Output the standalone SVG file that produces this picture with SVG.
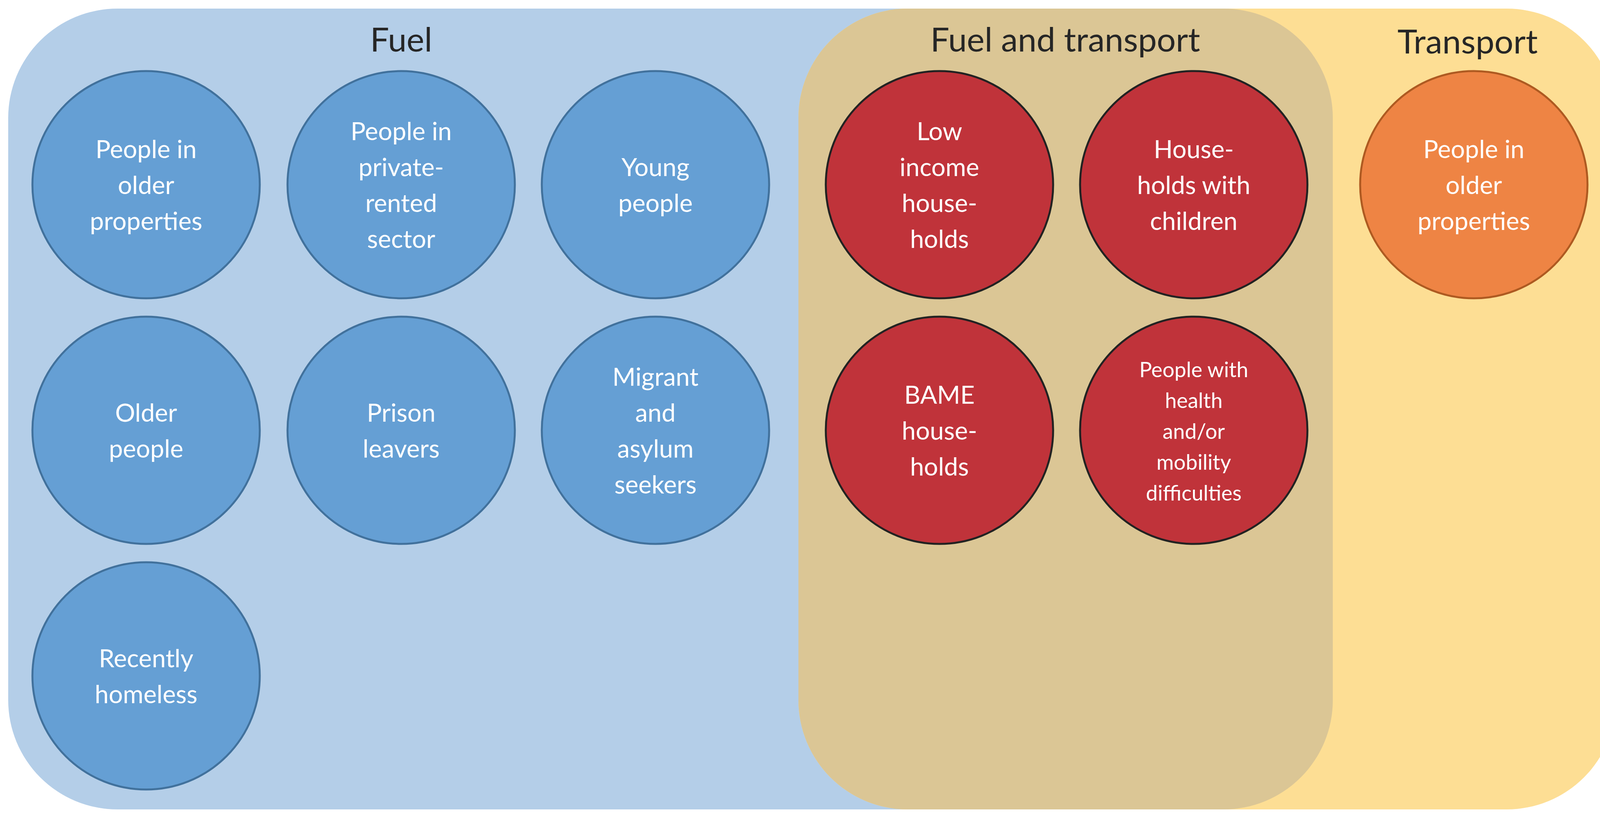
<svg xmlns="http://www.w3.org/2000/svg" width="4153" height="2095" viewBox="0 0 4153 2095">
<style>
.t{font-family:Lato,"Open Sans",sans-serif;font-size:64px;fill:#fff;text-anchor:middle}
.s{font-size:54px}
.h{font-family:Lato,"Open Sans",sans-serif;font-size:86px;fill:#262626;text-anchor:middle}
.b{fill:#659FD4;stroke:#41719C;stroke-width:5}
.r{fill:#C0333A;stroke:#222;stroke-width:5}
.o{fill:#EE8444;stroke:#AE5A21;stroke-width:5}
</style>
<defs><clipPath id="cb"><rect x="21" y="22" width="3391" height="2051" rx="280"/></clipPath></defs>
<g id="bg">
<rect x="21" y="22" width="3391" height="2051" rx="280" fill="#B4CEE8"/>
<rect x="2044" y="22" width="2093" height="2051" rx="280" fill="#FDDE94"/>
<rect x="2044" y="22" width="2093" height="2051" rx="280" fill="#DBC695" clip-path="url(#cb)"/>
<text class="h" x="1027" y="132">Fuel</text>
<text class="h" x="2727" y="132">Fuel and transport</text>
<text class="h" x="3757" y="137">Transport</text>
</g>
<g id="connectors"/>
<g id="n1"><circle class="b" cx="374" cy="473" r="291"/><text class="t" x="374" y="405">People in<tspan x="374" dy="92">older</tspan><tspan x="374" dy="92">properties</tspan></text></g>
<g id="n2"><circle class="b" cx="1027" cy="473" r="291"/><text class="t" x="1027" y="359">People in<tspan x="1027" dy="92">private-</tspan><tspan x="1027" dy="92">rented</tspan><tspan x="1027" dy="92">sector</tspan></text></g>
<g id="n3"><circle class="b" cx="1678" cy="473" r="291"/><text class="t" x="1678" y="451">Young<tspan x="1678" dy="92">people</tspan></text></g>
<g id="n4"><circle class="b" cx="374" cy="1102" r="291"/><text class="t" x="374" y="1080">Older<tspan x="374" dy="92">people</tspan></text></g>
<g id="n5"><circle class="b" cx="1027" cy="1102" r="291"/><text class="t" x="1027" y="1080">Prison<tspan x="1027" dy="92">leavers</tspan></text></g>
<g id="n6"><circle class="b" cx="1678" cy="1102" r="291"/><text class="t" x="1678" y="988">Migrant<tspan x="1678" dy="92">and</tspan><tspan x="1678" dy="92">asylum</tspan><tspan x="1678" dy="92">seekers</tspan></text></g>
<g id="n7"><circle class="b" cx="374" cy="1731" r="291"/><text class="t" x="374" y="1709">Recently<tspan x="374" dy="92">homeless</tspan></text></g>
<g id="n8"><circle class="r" cx="2405" cy="473" r="291"/><text class="t" x="2405" y="359">Low<tspan x="2405" dy="92">income</tspan><tspan x="2405" dy="92">house-</tspan><tspan x="2405" dy="92">holds</tspan></text></g>
<g id="n9"><circle class="r" cx="3056" cy="473" r="291"/><text class="t" x="3056" y="405">House-<tspan x="3056" dy="92">holds with</tspan><tspan x="3056" dy="92">children</tspan></text></g>
<g id="n10"><circle class="r" cx="2405" cy="1102" r="291"/><text class="t" x="2405" y="1034">BAME<tspan x="2405" dy="92">house-</tspan><tspan x="2405" dy="92">holds</tspan></text></g>
<g id="n11"><circle class="r" cx="3056" cy="1102" r="291"/><text class="t s" x="3056" y="966">People with<tspan x="3056" dy="79">health</tspan><tspan x="3056" dy="79">and/or</tspan><tspan x="3056" dy="79">mobility</tspan><tspan x="3056" dy="79">difficulties</tspan></text></g>
<g id="n12"><circle class="o" cx="3773" cy="473" r="291"/><text class="t" x="3773" y="405">People in<tspan x="3773" dy="92">older</tspan><tspan x="3773" dy="92">properties</tspan></text></g>
</svg>
